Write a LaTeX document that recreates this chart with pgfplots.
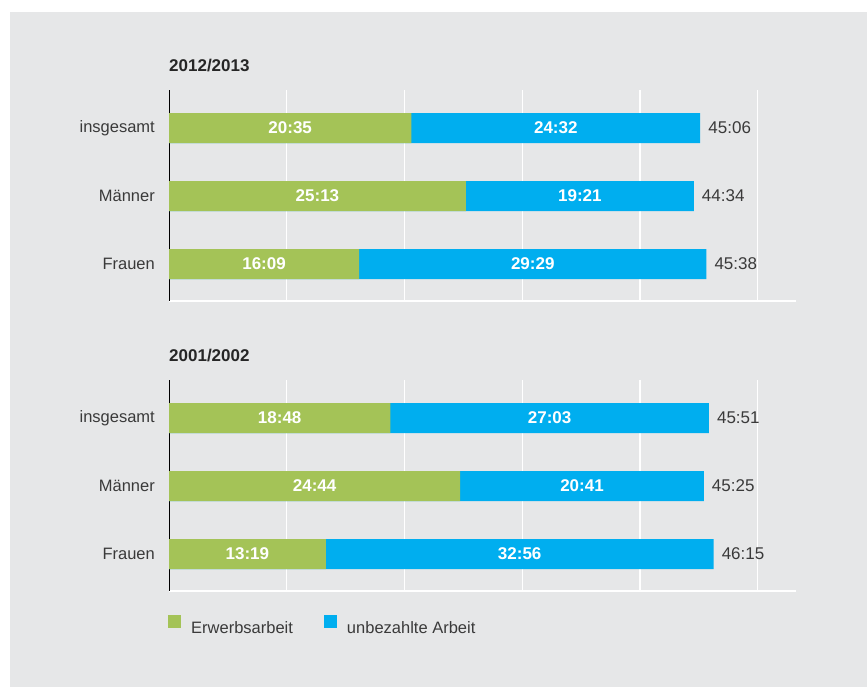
\documentclass[border=0pt]{standalone}
\usepackage{pgfplots}
\pgfplotsset{compat=1.18}
\usepackage{pgfplotstable}
\usepackage{fontspec}
\setmainfont{Liberation Sans}
\definecolor{bg}{HTML}{E6E7E8}
\definecolor{grn}{HTML}{A4C357}
\definecolor{blu}{HTML}{00AEEF}
\definecolor{txt}{HTML}{3A3A3A}

\pgfplotstableread{
y e u el ul tl
2 20.5833 24.5333 20:35 24:32 45:06
1 25.2167 19.35 25:13 19:21 44:34
0 16.15 29.4833 16:09 29:29 45:38
}\dataA

\pgfplotstableread{
y e u el ul tl
2 18.8 27.05 18:48 27:03 45:51
1 24.7333 20.6833 24:44 20:41 45:25
0 13.3167 32.9333 13:19 32:56 46:15
}\dataB

\pgfplotsset{
 panel/.style={
  scale only axis, width=627pt, height=211pt, anchor=south west,
  xmin=0, xmax=53.25, ymin=-0.544, ymax=2.559,
  axis x line=bottom, axis y line=left,
  x axis line style={-, white, line width=1.5pt},
  y axis line style={-, black, line width=0.9pt},
  xtick={10,20,30,40,50}, xticklabels={}, xmajorgrids,
  grid style={white, line width=1.2pt},
  major tick length=0pt,
  ytick={0,1,2}, yticklabels={Frauen,Männer,insgesamt},
  yticklabel style={anchor=east, inner sep=0pt, xshift=-14pt, text=txt},
  font=\fontsize{16.5}{19}\selectfont,
  title style={at={(axis description cs:0,1)}, anchor=base west, yshift=12pt, inner sep=0pt, font=\fontsize{17}{20}\selectfont\bfseries, text=black!85},
  clip=false,
 },
 blubar/.style={xbar, bar width=30pt, fill=blu, draw=none, forget plot},
 grnbar/.style={xbar, bar width=30pt, fill=grn, draw=none, forget plot},
 inlab/.style={draw=none, mark=none, forget plot, nodes near coords, point meta=explicit symbolic,
   every node near coord/.append style={anchor=center, inner sep=0pt, text=white, font=\fontsize{17}{20}\selectfont\bfseries}},
 totlab/.style={draw=none, mark=none, forget plot, nodes near coords, point meta=explicit symbolic,
   every node near coord/.append style={anchor=west, inner sep=0pt, xshift=8pt, text=txt, font=\fontsize{17}{20}\selectfont}},
}

\begin{document}
\begin{tikzpicture}
\fill[white] (0pt,0pt) rectangle (867pt,687pt);
\fill[bg] (10pt,0pt) rectangle (867pt,675pt);

\begin{axis}[panel, at={(169pt,386pt)}, title={2012/2013}]
\addplot[blubar] table[x expr=\thisrow{e}+\thisrow{u}, y=y] {\dataA};
\addplot[grnbar] table[x=e, y=y] {\dataA};
\addplot[inlab] table[x expr=\thisrow{e}/2, y=y, meta=el] {\dataA};
\addplot[inlab] table[x expr=\thisrow{e}+\thisrow{u}/2, y=y, meta=ul] {\dataA};
\addplot[totlab] table[x expr=\thisrow{e}+\thisrow{u}, y=y, meta=tl] {\dataA};
\end{axis}

\begin{axis}[panel, at={(169pt,96pt)}, title={2001/2002},
  legend style={at={(axis description cs:0,0)}, anchor=west, yshift=-34pt, xshift=-1pt,
    draw=none, fill=none, inner sep=0pt, legend columns=2, legend cell align=left,
    nodes={inner sep=0pt, text=txt, font=\fontsize{16.5}{19}\selectfont},
    /tikz/every odd column/.append style={column sep=10pt},
    /tikz/every even column/.append style={column sep=31pt}},
  legend image code/.code={\fill[#1] (0pt,-0.5pt) rectangle (13pt,12.5pt);}]
\addplot[blubar] table[x expr=\thisrow{e}+\thisrow{u}, y=y] {\dataB};
\addplot[grnbar] table[x=e, y=y] {\dataB};
\addplot[inlab] table[x expr=\thisrow{e}/2, y=y, meta=el] {\dataB};
\addplot[inlab] table[x expr=\thisrow{e}+\thisrow{u}/2, y=y, meta=ul] {\dataB};
\addplot[totlab] table[x expr=\thisrow{e}+\thisrow{u}, y=y, meta=tl] {\dataB};
\addlegendimage{fill=grn, draw=none}
\addlegendentry{Erwerbsarbeit}
\addlegendimage{fill=blu, draw=none}
\addlegendentry{unbezahlte Arbeit}
\end{axis}

\pgfresetboundingbox
\useasboundingbox (0pt,0pt) rectangle (867pt,687pt);
\end{tikzpicture}
\end{document}
